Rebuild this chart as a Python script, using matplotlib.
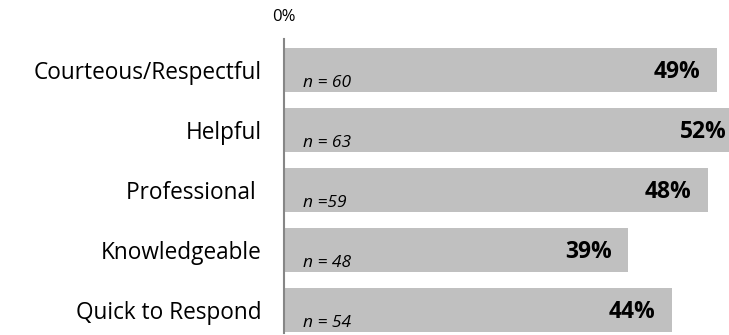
import matplotlib.pyplot as plt

categories = ['Courteous/Respectful', 'Helpful', 'Professional ', 'Knowledgeable', 'Quick to Respond']
values = [49, 52, 48, 39, 44]
n_labels = ['n = 60', 'n = 63', 'n =59', 'n = 48', 'n = 54']

plt.rcParams['font.family'] = ['Open Sans', 'DejaVu Sans']

fig = plt.figure(figsize=(7.29, 3.35), dpi=100)
# axes spans x 284..729 px, y 39..333 px
ax = fig.add_axes([284 / 729, 1 - 333 / 335, 445 / 729, 294 / 335])

pos = list(range(len(categories)))
ax.barh(pos, values, height=0.733, color='#c0c0c0')
ax.set_xlim(0, 50.4)
ax.set_ylim(4.39, -0.51)

for i, v in enumerate(values):
    ax.annotate(f'{v}%', (v, i), xytext=(-12, -1.5), textcoords='offset points',
                ha='right', va='center', fontsize=16.5, fontweight='bold',
                annotation_clip=False)
    ax.annotate(n_labels[i], (0, i), xytext=(14, -10), textcoords='offset points',
                ha='left', va='center', fontsize=12.5, style='italic')

ax.set_yticks(pos)
ax.set_yticklabels(categories, fontsize=16.3)
ax.tick_params(axis='y', length=0, pad=16)

ax.xaxis.tick_top()
ax.set_xticks([0])
ax.set_xticklabels(['0%'], fontsize=12)
ax.tick_params(axis='x', length=0, pad=10)

for s in ['top', 'right', 'bottom']:
    ax.spines[s].set_visible(False)
ax.spines['left'].set_color('#868686')
ax.spines['left'].set_linewidth(1.5)

fig.savefig('out.png', dpi=100)
